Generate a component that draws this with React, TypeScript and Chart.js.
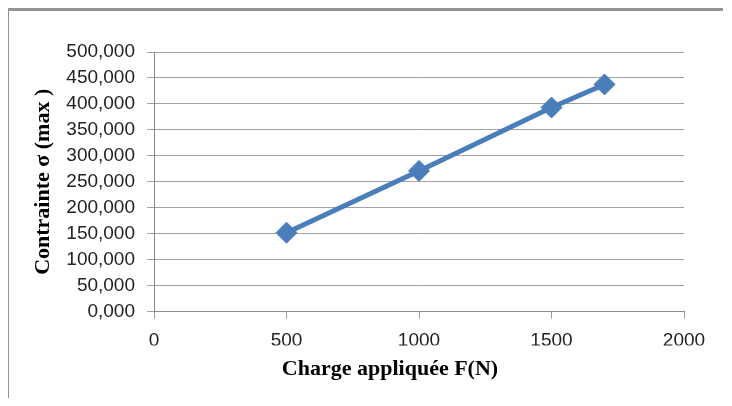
import React, { useEffect, useRef } from "react";
import { Chart, registerables } from "chart.js";

Chart.register(...registerables);

const chargeN = [500, 1000, 1500, 1700];
const contrainte = [152, 271, 393, 437.5];
const xTicks = [0, 500, 1000, 1500, 2000];
const yMax = 500;
const yStep = 50;
const xTitle = "Charge appliquée F(N)";
const yTitle = "Contrainte σ (max )";

export default function App() {
  const ref = useRef<HTMLCanvasElement | null>(null);

  useEffect(() => {
    if (!ref.current) return;
    const chart = new Chart(ref.current, {
      type: "line",
      data: {
        datasets: [
          {
            data: chargeN.map((x, i) => ({ x, y: contrainte[i] })),
            borderColor: "#4a7ebb",
            backgroundColor: "#4a7ebb",
            borderWidth: 5,
            pointStyle: "rectRot",
            pointRadius: 10.5,
            pointBorderWidth: 1,
            pointBackgroundColor: "#4a7ebb",
            pointBorderColor: "#4a7ebb",
            tension: 0,
            yAxisID: "y",
          },
        ],
      },
      options: {
        animation: false,
        responsive: false,
        layout: { padding: { left: 0, right: 8, top: 41, bottom: 15 } },
        plugins: {
          legend: { display: false },
          tooltip: { enabled: false },
          title: {
            display: true,
            position: "bottom",
            text: xTitle,
            color: "#000",
            font: { family: "'Liberation Serif', serif", size: 22, weight: "bold", lineHeight: 1.2 },
            padding: { top: 11, bottom: 0 },
          },
        },
        scales: {
          x: {
            type: "linear",
            min: xTicks[0],
            max: xTicks[xTicks.length - 1],
            afterBuildTicks: (s: any) => {
              s.ticks = xTicks.map((v) => ({ value: v }));
            },
            afterFit: (s: any) => {
              s.height = 34;
            },
            ticks: {
              color: "#222",
              padding: 11,
              font: { family: "'Liberation Sans', Arial, sans-serif", size: 19 },
              callback: (v: any) => String(v),
            },
            grid: {
              drawOnChartArea: false,
              drawTicks: true,
              tickLength: 7,
              color: "#9a9a9a",
            },
            border: { display: true, color: "#8a8a8a", width: 1 },
          },
          y: {
            position: "left",
            min: 0,
            max: yMax,
            afterFit: (s: any) => {
              s.width = 145;
            },
            ticks: {
              stepSize: yStep,
              color: "#222",
              padding: 12,
              font: { family: "'Liberation Sans', Arial, sans-serif", size: 19 },
              callback: (v: any) => Number(v).toFixed(3).replace(".", ","),
            },
            grid: {
              drawTicks: true,
              tickLength: 7,
              color: "#a0a0a0",
            },
            border: { display: true, color: "#8a8a8a", width: 1 },
            title: {
              display: true,
              text: yTitle,
              color: "#000",
              font: { family: "'Liberation Serif', serif", size: 22, weight: "bold", lineHeight: 1.2 },
              padding: { top: 21, bottom: 0 },
            },
          },
          spacer: {
            type: "linear",
            position: "right",
            display: true,
            afterFit: (s: any) => {
              s.width = 87;
            },
            ticks: { display: false },
            grid: { display: false, drawTicks: false },
            border: { display: false },
          },
        },
      },
    });
    return () => chart.destroy();
  }, []);

  return (
    <div
      style={{
        marginLeft: -2,
        borderLeft: "3px solid #939393",
        borderTop: "3px solid #939393",
        width: 714,
        height: 387,
        overflow: "hidden",
        background: "#fff",
      }}
    >
      <canvas ref={ref} width={770} height={387} style={{ display: "block", width: 770, height: 387 }} />
    </div>
  );
}
